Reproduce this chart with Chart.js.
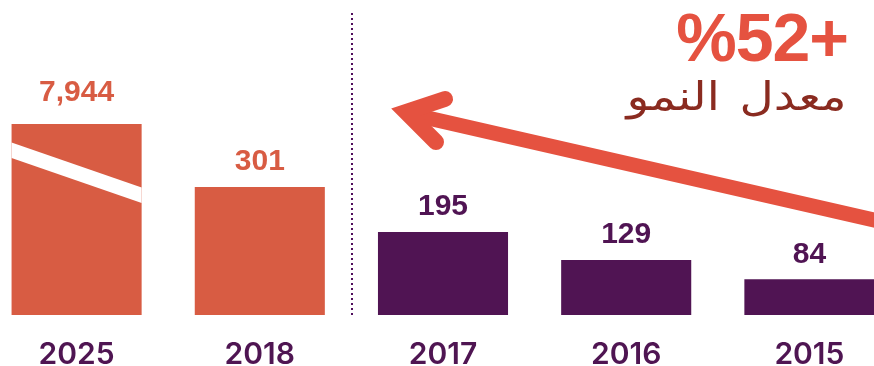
<!DOCTYPE html>
<html lang="ar">
<head>
<meta charset="utf-8">
<script src="https://cdn.jsdelivr.net/npm/chart.js@4.4.1/dist/chart.umd.min.js"></script>
<style>
  html, body { margin: 0; padding: 0; background: #fff; }
  #wrap { position: relative; width: 874px; height: 366px; overflow: hidden; }
  #grafico { position: absolute; left: -15px; top: 0; }
  .titulo { position: absolute; right: 26px; font-family: 'Liberation Sans', Arial, sans-serif; font-weight: bold; color: #e55240; font-size: 68px; line-height: 1; top: 3px; letter-spacing: -1px; direction: ltr; }
  .subtitulo { position: absolute; right: 27px; top: 72px; font-family: 'DejaVu Sans', sans-serif; color: #8a2b20; font-size: 40px; line-height: 1.2; word-spacing: 4px; direction: rtl; transform: scaleX(1.18); transform-origin: right center; }
</style>
</head>
<body>
<div id="wrap">
  <canvas id="grafico" width="916" height="366"></canvas>
  <div class="titulo">%52+</div>
  <div class="subtitulo">معدل النمو</div>
</div>
<script>
const anos = ['2025', '2018', '2017', '2016', '2015']
const valores = [7944, 301, 195, 129, 84]
const rotulos = ['7,944', '301', '195', '129', '84']
const cores = ['#d85c43', '#d85c43', '#501453', '#501453', '#501453']

const LARANJA = '#e55240'
const DESLOC = 15 // canvas is shifted left by this much

// value labels over each bar, the break on the tall bar, divider and arrow
const extras = {
  id: 'extras',
  afterDatasetsDraw(chart) {
    const ctx = chart.ctx
    const area = chart.chartArea
    const meta = chart.getDatasetMeta(0)

    meta.data.forEach((bar, i) => {
      const topo = Math.max(bar.y, area.top)
      const cortada = bar.y < area.top

      if (cortada) {
        // white diagonal cut across the clipped bar
        const esq = bar.x - bar.width / 2
        const dir = bar.x + bar.width / 2
        ctx.save()
        ctx.fillStyle = '#fff'
        ctx.beginPath()
        ctx.moveTo(esq, topo + 18.5)
        ctx.lineTo(dir, topo + 63.5)
        ctx.lineTo(dir, topo + 79)
        ctx.lineTo(esq, topo + 34)
        ctx.closePath()
        ctx.fill()
        ctx.restore()
      }

      ctx.save()
      ctx.font = 'bold 30px "Liberation Sans", Arial, sans-serif'
      ctx.fillStyle = cores[i]
      ctx.textAlign = 'center'
      ctx.textBaseline = 'middle'
      ctx.fillText(rotulos[i], bar.x, topo - (cortada ? 31 : 25))
      ctx.restore()
    })

    // dotted divider between 2018 and 2017
    const x = chart.scales.x
    const xDiv = Math.round((x.getPixelForValue(1) + x.getPixelForValue(2)) / 2) + 1
    ctx.save()
    ctx.strokeStyle = '#4f0f5c'
    ctx.lineWidth = 2
    ctx.setLineDash([2, 3])
    ctx.beginPath()
    ctx.moveTo(xDiv, 13)
    ctx.lineTo(xDiv, 318)
    ctx.stroke()
    ctx.restore()

    // growth arrow
    ctx.save()
    ctx.translate(DESLOC, 0)
    ctx.strokeStyle = LARANJA
    ctx.lineWidth = 15
    ctx.beginPath()
    ctx.moveTo(406, 113)
    ctx.lineTo(900, 226)
    ctx.stroke()

    ctx.lineWidth = 16
    ctx.lineCap = 'round'
    ctx.lineJoin = 'miter'
    ctx.beginPath()
    ctx.moveTo(445, 99)
    ctx.lineTo(406, 112)
    ctx.lineTo(436, 142)
    ctx.stroke()
    ctx.restore()
  }
}

new Chart(document.getElementById('grafico'), {
  type: 'bar',
  data: {
    labels: anos,
    datasets: [{
      data: valores,
      backgroundColor: cores,
      borderWidth: 0,
      barPercentage: 1,
      categoryPercentage: 0.71,
      clip: 0
    }]
  },
  options: {
    responsive: false,
    animation: false,
    layout: { padding: { top: 124, left: 0, right: 0, bottom: 0 } },
    plugins: {
      legend: { display: false },
      tooltip: { enabled: false }
    },
    scales: {
      y: {
        display: false,
        min: 0,
        max: 449
      },
      x: {
        grid: { display: false },
        border: { display: false },
        ticks: {
          color: '#4f1552',
          padding: 14,
          font: { family: 'Inter, Roboto, sans-serif', size: 30, weight: '600' }
        },
        afterFit(escala) { escala.height = 51 }
      }
    }
  },
  plugins: [extras]
})
</script>
</body>
</html>
